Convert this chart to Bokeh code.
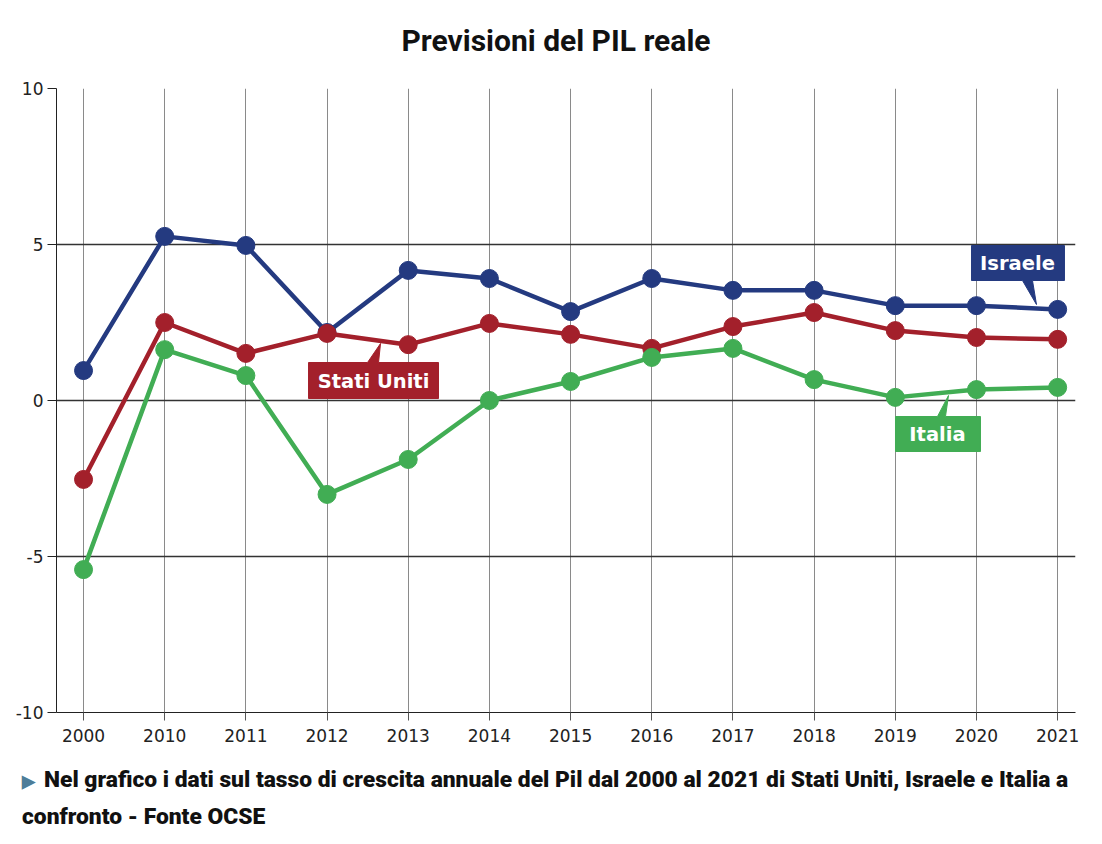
from bokeh.plotting import figure
from bokeh.models import Range1d, FixedTicker, Div
from bokeh.layouts import column
from bokeh.embed import file_html
from bokeh.resources import INLINE
from bokeh.core.properties import value

years = ["2000", "2010", "2011", "2012", "2013", "2014", "2015", "2016",
         "2017", "2018", "2019", "2020", "2021"]
israele = [0.96, 5.26, 4.97, 2.18, 4.17, 3.91, 2.85, 3.91, 3.53, 3.53, 3.04, 3.04, 2.92]
stati_uniti = [-2.53, 2.50, 1.51, 2.15, 1.79, 2.47, 2.12, 1.67, 2.37, 2.82, 2.24, 2.02, 1.96]
italia = [-5.42, 1.63, 0.80, -3.01, -1.89, 0.00, 0.61, 1.38, 1.67, 0.67, 0.10, 0.35, 0.42]
y_ticks = [-10, -5, 0, 5, 10]

BLUE = "#243a80"
RED = "#a3202b"
GREEN = "#41ad54"

idx = list(range(len(years)))

title = Div(
    text="Previsioni del PIL reale",
    width=1102, height=60,
    styles={"font-family": "Roboto, sans-serif", "font-weight": "bold",
            "font-size": "30px", "line-height": "36px", "color": "#111111",
            "text-align": "center", "padding-top": "18px", "width": "1102px"},
)

p = figure(width=1102, height=690, output_backend="svg", toolbar_location=None,
           x_range=Range1d(-0.333, 12.22), y_range=Range1d(-10, 10),
           min_border_left=56, min_border_right=27, min_border_top=18,
           min_border_bottom=48)
p.outline_line_color = None
p.background_fill_color = "white"
p.border_fill_color = "white"

p.xaxis.ticker = FixedTicker(ticks=idx)
p.xaxis.major_label_overrides = {i: y for i, y in zip(idx, years)}
p.xaxis.minor_tick_line_color = None
p.xaxis.major_tick_out = 8
p.xaxis.major_tick_in = 0
p.xaxis.major_tick_line_color = "#555555"
p.xaxis.axis_line_color = "#222222"
p.xaxis.major_label_text_font = "DejaVu Sans"
p.xaxis.major_label_text_font_size = "17px"
p.xaxis.major_label_text_color = "#222222"
p.xaxis.major_label_standoff = 8

p.yaxis.ticker = FixedTicker(ticks=y_ticks)
p.yaxis.major_label_overrides = {t: str(t) for t in y_ticks}
p.yaxis.minor_tick_line_color = None
p.yaxis.major_tick_out = 9
p.yaxis.major_tick_in = 0
p.yaxis.major_tick_line_color = "#222222"
p.yaxis.axis_line_color = "#222222"
p.yaxis.major_label_text_font = "DejaVu Sans"
p.yaxis.major_label_text_font_size = "17px"
p.yaxis.major_label_text_color = "#222222"
p.yaxis.major_label_standoff = 4

p.xgrid.ticker = FixedTicker(ticks=idx)
p.xgrid.grid_line_color = "#8a8a8a"
p.xgrid.grid_line_width = 1
p.ygrid.ticker = FixedTicker(ticks=y_ticks)
p.ygrid.grid_line_color = "#333333"
p.ygrid.grid_line_width = 1.3

for series, color in ((israele, BLUE), (stati_uniti, RED), (italia, GREEN)):
    p.line(idx, series, line_color=color, line_width=4.5)
    p.scatter(idx, series, size=18, fill_color=color, line_color=color)

# callouts (pixel positions converted to data coordinates)
X0, DX = 83.0, 81.18
Y0, DY = 400.0, 31.2


def cx(px):
    return (px - X0) / DX


def cy(py):
    return (Y0 - py) / DY


callouts = [
    ("Israele", BLUE, [(971, 245), (1064, 245), (1064, 280), (1032, 280), (1036, 304), (1022, 280), (971, 280)], (1017, 263)),
    ("Stati Uniti", RED, [(308, 362), (367, 362), (380, 343), (378, 362), (438, 362), (438, 398), (308, 398)], (373, 381)),
    ("Italia", GREEN, [(895, 416), (937, 416), (948, 395), (945, 416), (980, 416), (980, 451), (895, 451)], (937, 434)),
]
for name, color, poly, (tx, ty) in callouts:
    p.patch([cx(a) for a, b in poly], [cy(b) for a, b in poly],
            fill_color=color, line_color=color, line_width=1)
    p.text([cx(tx)], [cy(ty)], text=[name], text_color="white",
           text_font=value("DejaVu Sans"), text_font_style="bold",
           text_font_size="19.5px", text_align="center", text_baseline="middle")

caption = Div(
    text=('<span style="color:#4d7d99;font-size:17px;display:inline-block;'
          'width:22px;">&#9654;</span>'
          'Nel grafico i dati sul tasso di crescita annuale del Pil dal 2000 al 2021 '
          'di Stati Uniti, Israele e Italia a<br>confronto - Fonte OCSE'),
    width=1095, height=80,
    styles={"font-family": "Roboto, sans-serif",
            "font-weight": "900", "font-size": "22.8px", "line-height": "35px",
            "color": "#111111", "padding-left": "17px", "margin-top": "2px",
            "white-space": "nowrap"},
)

layout = column(title, p, caption, spacing=0)
open("out.html", "w").write(file_html(layout, INLINE))
